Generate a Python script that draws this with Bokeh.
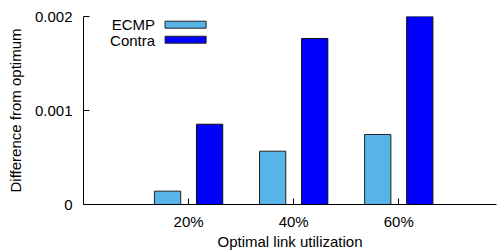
from bokeh.plotting import figure
from bokeh.models import Range1d, FixedTicker, Label, ColumnDataSource
from bokeh.embed import file_html
from bokeh.resources import INLINE

# ---- data ----
categories = ["20%", "40%", "60%"]
cat_pos = [1, 2, 3]
ecmp = [0.000142, 0.000567, 0.000745]
contra = [0.000854, 0.001766, 0.002]
y_ticks = [0, 0.001, 0.002]
y_tick_labels = ["0", "0.001", "0.002"]

ECMP_COLOR = "#56b4e9"
CONTRA_COLOR = "#0000ff"
FONT = "Liberation Sans"
FS = "15px"
OFFSET = 0.2
BAR_W = 0.25

p = figure(width=497, height=252, output_backend="svg", toolbar_location=None,
           x_range=Range1d(0, 3.93), y_range=Range1d(0, 0.002),
           min_border_left=83, min_border_right=1, min_border_top=16, min_border_bottom=48)

src = ColumnDataSource(dict(
    x_e=[c - OFFSET for c in cat_pos], x_c=[c + OFFSET for c in cat_pos],
    ecmp=ecmp, contra=contra))
p.vbar(x="x_e", top="ecmp", width=BAR_W, bottom=0, source=src,
       fill_color=ECMP_COLOR, line_color="#222222", line_width=1)
p.vbar(x="x_c", top="contra", width=BAR_W, bottom=0, source=src,
       fill_color=CONTRA_COLOR, line_color="#111111", line_width=1)

p.grid.visible = False
p.outline_line_color = None
p.background_fill_color = "white"

xa = p.xaxis[0]
xa.ticker = FixedTicker(ticks=cat_pos)
xa.major_label_overrides = {c: l for c, l in zip(cat_pos, categories)}
xa.axis_label = "Optimal link utilization"

ya = p.yaxis[0]
ya.ticker = FixedTicker(ticks=y_ticks)
ya.major_label_overrides = {t: l for t, l in zip(y_ticks, y_tick_labels)}
ya.axis_label = "Difference from optimum"

for ax in (xa, ya):
    ax.major_tick_in = 6
    ax.major_tick_out = 0
    ax.minor_tick_line_color = None
    ax.axis_line_color = "black"
    ax.axis_line_width = 1
    ax.major_tick_line_color = "black"
    ax.major_label_text_font = FONT
    ax.major_label_text_font_size = FS
    ax.major_label_text_color = "black"
    ax.axis_label_text_font = FONT
    ax.axis_label_text_font_size = FS
    ax.axis_label_text_font_style = "normal"
    ax.axis_label_text_color = "black"
xa.major_label_standoff = 8
xa.axis_label_standoff = 0
ya.major_label_standoff = 11
ya.axis_label_standoff = 8

# ---- legend (gnuplot style: label right-aligned, swatch on the right) ----
legend_items = [("ECMP", ECMP_COLOR, 0.001950, 0.001876, 0.001917),
                ("Contra", CONTRA_COLOR, 0.001790, 0.001716, 0.001741)]
for name, color, top, bot, ty in legend_items:
    p.quad(left=0.776, right=1.167, top=top, bottom=bot,
           fill_color=color, line_color="#222222", line_width=1)
    p.add_layout(Label(x=0.681, y=ty, text=name, text_align="right",
                       text_baseline="middle", text_font=FONT,
                       text_font_size=FS, text_color="black"))

open("out.html", "w").write(file_html(p, INLINE))
